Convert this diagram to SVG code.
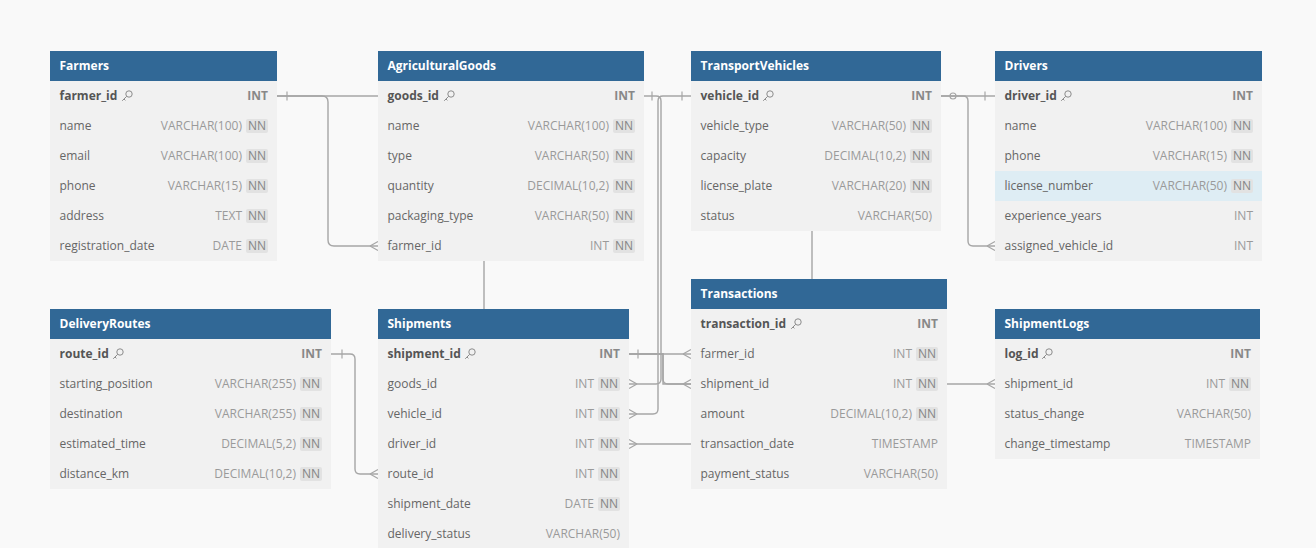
<svg xmlns="http://www.w3.org/2000/svg" xmlns:xlink="http://www.w3.org/1999/xlink" width="1316" height="548" viewBox="0 0 1316 548">
<style>
  text { font-family: "Open Sans", "Liberation Sans", sans-serif; font-size: 12px; }
  .hdr { fill: #316896; }
  .body { fill: #f1f1f1; }
  .title { fill: #ffffff; font-weight: 700; }
  .col { fill: #666666; }
  .pk { fill: #555555; font-weight: 700; }
  .type { fill: #9a9a9a; text-anchor: end; }
  .pktype { fill: #888888; font-weight: 700; text-anchor: end; }
  .badge { fill: #e2e2e2; }
  .nn { fill: #858585; text-anchor: middle; }
  .hl { fill: #deedf4; }
  .conn path { fill: none; stroke: #a6a6a6; stroke-width: 1.4; }
  .mk { fill: none; stroke: #a6a6a6; stroke-width: 1.2; }
  .keyi { fill: none; stroke: #8c8c8c; stroke-width: 1; }
</style>
<defs>
  <g id="key"><circle cx="2" cy="-2" r="3.2" class="keyi"/><path d="M-0.3 0.3 L-4.8 4.8 M-3 3 L-1.6 4.4" class="keyi"/></g>
  <path id="crowL" d="M-8 0 L0 -4.5 M-8 0 L0 4.5" class="mk"/>
  <path id="crowR" d="M8 0 L0 -4.5 M8 0 L0 4.5" class="mk"/>
  <path id="tick" d="M0 -4.5 V4.5" class="mk"/>
</defs>
<rect width="1316" height="548" fill="#f9f9f9"/>

<g id="connectors" class="conn">
  <path d="M277 96 H322 Q328 96 328 102 V240 Q328 246 334 246 H378"/>
  <path d="M277 96 H484 V354 H691"/>
  <path d="M644 96 H656 Q661 96 661 101 V379 Q661 384 656 384 H629"/>
  <path d="M691 96 H663 Q658 96 658 101 V409 Q658 414 653 414 H629"/>
  <path d="M629 354 H663 V379 Q663 384 668 384 H691"/>
  <path d="M629 354 H663 V384 H995"/>
  <path d="M629 444 H812 V96 H995"/>
  <path d="M941 96 H963 Q968 96 968 101 V241 Q968 246 973 246 H995"/>
  <path d="M331 354 H350 Q355 354 355 359 V469 Q355 474 360 474 H378"/>
  <use href="#tick" x="287" y="96"/>
  <use href="#crowL" x="378" y="246"/>
  <use href="#crowL" x="691" y="354"/>
  <use href="#tick" x="652" y="96"/>
  <use href="#crowR" x="629" y="384"/>
  <use href="#tick" x="682" y="96"/>
  <use href="#crowR" x="629" y="414"/>
  <use href="#tick" x="638" y="354"/>
  <use href="#crowL" x="691" y="384"/>
  <use href="#crowL" x="995" y="384"/>
  <use href="#crowR" x="629" y="444"/>
  <use href="#tick" x="985" y="96"/>
  <circle cx="953" cy="96" r="3" fill="#f9f9f9" class="mk"/>
  <use href="#crowL" x="995" y="246"/>
  <use href="#tick" x="342" y="354"/>
  <use href="#crowL" x="378" y="474"/>
</g>

<g id="Farmers">
  <rect class="hdr" x="50" y="51" width="227" height="30"/>
  <rect class="body" x="50" y="81" width="227" height="180"/>
  <text class="title" x="59.5" y="70">Farmers</text>
  <text class="pk" x="59.5" y="100">farmer_id</text><use href="#key" x="127" y="96"/><text class="pktype" x="268" y="100">INT</text>
  <text class="col" x="59.5" y="130">name</text><text class="type" x="242" y="130">VARCHAR(100)</text><rect class="badge" x="246" y="119" width="22" height="14" rx="2"/><text class="nn" x="257" y="130">NN</text>
  <text class="col" x="59.5" y="160">email</text><text class="type" x="242" y="160">VARCHAR(100)</text><rect class="badge" x="246" y="149" width="22" height="14" rx="2"/><text class="nn" x="257" y="160">NN</text>
  <text class="col" x="59.5" y="190">phone</text><text class="type" x="242" y="190">VARCHAR(15)</text><rect class="badge" x="246" y="179" width="22" height="14" rx="2"/><text class="nn" x="257" y="190">NN</text>
  <text class="col" x="59.5" y="220">address</text><text class="type" x="242" y="220">TEXT</text><rect class="badge" x="246" y="209" width="22" height="14" rx="2"/><text class="nn" x="257" y="220">NN</text>
  <text class="col" x="59.5" y="250">registration_date</text><text class="type" x="242" y="250">DATE</text><rect class="badge" x="246" y="239" width="22" height="14" rx="2"/><text class="nn" x="257" y="250">NN</text>
</g>

<g id="AgriculturalGoods">
  <rect class="hdr" x="378" y="51" width="266" height="30"/>
  <rect class="body" x="378" y="81" width="266" height="180"/>
  <text class="title" x="387.5" y="70">AgriculturalGoods</text>
  <text class="pk" x="387.5" y="100">goods_id</text><use href="#key" x="449" y="96"/><text class="pktype" x="635" y="100">INT</text>
  <text class="col" x="387.5" y="130">name</text><text class="type" x="609" y="130">VARCHAR(100)</text><rect class="badge" x="613" y="119" width="22" height="14" rx="2"/><text class="nn" x="624" y="130">NN</text>
  <text class="col" x="387.5" y="160">type</text><text class="type" x="609" y="160">VARCHAR(50)</text><rect class="badge" x="613" y="149" width="22" height="14" rx="2"/><text class="nn" x="624" y="160">NN</text>
  <text class="col" x="387.5" y="190">quantity</text><text class="type" x="609" y="190">DECIMAL(10,2)</text><rect class="badge" x="613" y="179" width="22" height="14" rx="2"/><text class="nn" x="624" y="190">NN</text>
  <text class="col" x="387.5" y="220">packaging_type</text><text class="type" x="609" y="220">VARCHAR(50)</text><rect class="badge" x="613" y="209" width="22" height="14" rx="2"/><text class="nn" x="624" y="220">NN</text>
  <text class="col" x="387.5" y="250">farmer_id</text><text class="type" x="609" y="250">INT</text><rect class="badge" x="613" y="239" width="22" height="14" rx="2"/><text class="nn" x="624" y="250">NN</text>
</g>

<g id="TransportVehicles">
  <rect class="hdr" x="691" y="51" width="250" height="30"/>
  <rect class="body" x="691" y="81" width="250" height="150"/>
  <text class="title" x="700.5" y="70">TransportVehicles</text>
  <text class="pk" x="700.5" y="100">vehicle_id</text><use href="#key" x="768" y="96"/><text class="pktype" x="932" y="100">INT</text>
  <text class="col" x="700.5" y="130">vehicle_type</text><text class="type" x="906" y="130">VARCHAR(50)</text><rect class="badge" x="910" y="119" width="22" height="14" rx="2"/><text class="nn" x="921" y="130">NN</text>
  <text class="col" x="700.5" y="160">capacity</text><text class="type" x="906" y="160">DECIMAL(10,2)</text><rect class="badge" x="910" y="149" width="22" height="14" rx="2"/><text class="nn" x="921" y="160">NN</text>
  <text class="col" x="700.5" y="190">license_plate</text><text class="type" x="906" y="190">VARCHAR(20)</text><rect class="badge" x="910" y="179" width="22" height="14" rx="2"/><text class="nn" x="921" y="190">NN</text>
  <text class="col" x="700.5" y="220">status</text><text class="type" x="932" y="220">VARCHAR(50)</text>
</g>

<g id="Drivers">
  <rect class="hdr" x="995" y="51" width="267" height="30"/>
  <rect class="body" x="995" y="81" width="267" height="180"/>
  <rect class="hl" x="995" y="171" width="267" height="30"/>
  <text class="title" x="1004.5" y="70">Drivers</text>
  <text class="pk" x="1004.5" y="100">driver_id</text><use href="#key" x="1066" y="96"/><text class="pktype" x="1253" y="100">INT</text>
  <text class="col" x="1004.5" y="130">name</text><text class="type" x="1227" y="130">VARCHAR(100)</text><rect class="badge" x="1231" y="119" width="22" height="14" rx="2"/><text class="nn" x="1242" y="130">NN</text>
  <text class="col" x="1004.5" y="160">phone</text><text class="type" x="1227" y="160">VARCHAR(15)</text><rect class="badge" x="1231" y="149" width="22" height="14" rx="2"/><text class="nn" x="1242" y="160">NN</text>
  <text class="col" x="1004.5" y="190">license_number</text><text class="type" x="1227" y="190">VARCHAR(50)</text><rect class="badge" x="1231" y="179" width="22" height="14" rx="2"/><text class="nn" x="1242" y="190">NN</text>
  <text class="col" x="1004.5" y="220">experience_years</text><text class="type" x="1253" y="220">INT</text>
  <text class="col" x="1004.5" y="250">assigned_vehicle_id</text><text class="type" x="1253" y="250">INT</text>
</g>

<g id="DeliveryRoutes">
  <rect class="hdr" x="50" y="309" width="281" height="30"/>
  <rect class="body" x="50" y="339" width="281" height="150"/>
  <text class="title" x="59.5" y="328">DeliveryRoutes</text>
  <text class="pk" x="59.5" y="358">route_id</text><use href="#key" x="118" y="354"/><text class="pktype" x="322" y="358">INT</text>
  <text class="col" x="59.5" y="388">starting_position</text><text class="type" x="296" y="388">VARCHAR(255)</text><rect class="badge" x="300" y="377" width="22" height="14" rx="2"/><text class="nn" x="311" y="388">NN</text>
  <text class="col" x="59.5" y="418">destination</text><text class="type" x="296" y="418">VARCHAR(255)</text><rect class="badge" x="300" y="407" width="22" height="14" rx="2"/><text class="nn" x="311" y="418">NN</text>
  <text class="col" x="59.5" y="448">estimated_time</text><text class="type" x="296" y="448">DECIMAL(5,2)</text><rect class="badge" x="300" y="437" width="22" height="14" rx="2"/><text class="nn" x="311" y="448">NN</text>
  <text class="col" x="59.5" y="478">distance_km</text><text class="type" x="296" y="478">DECIMAL(10,2)</text><rect class="badge" x="300" y="467" width="22" height="14" rx="2"/><text class="nn" x="311" y="478">NN</text>
</g>

<g id="Shipments">
  <rect class="hdr" x="378" y="309" width="251" height="30"/>
  <rect class="body" x="378" y="339" width="251" height="210"/>
  <text class="title" x="387.5" y="328">Shipments</text>
  <text class="pk" x="387.5" y="358">shipment_id</text><use href="#key" x="470" y="354"/><text class="pktype" x="620" y="358">INT</text>
  <text class="col" x="387.5" y="388">goods_id</text><text class="type" x="594" y="388">INT</text><rect class="badge" x="598" y="377" width="22" height="14" rx="2"/><text class="nn" x="609" y="388">NN</text>
  <text class="col" x="387.5" y="418">vehicle_id</text><text class="type" x="594" y="418">INT</text><rect class="badge" x="598" y="407" width="22" height="14" rx="2"/><text class="nn" x="609" y="418">NN</text>
  <text class="col" x="387.5" y="448">driver_id</text><text class="type" x="594" y="448">INT</text><rect class="badge" x="598" y="437" width="22" height="14" rx="2"/><text class="nn" x="609" y="448">NN</text>
  <text class="col" x="387.5" y="478">route_id</text><text class="type" x="594" y="478">INT</text><rect class="badge" x="598" y="467" width="22" height="14" rx="2"/><text class="nn" x="609" y="478">NN</text>
  <text class="col" x="387.5" y="508">shipment_date</text><text class="type" x="594" y="508">DATE</text><rect class="badge" x="598" y="497" width="22" height="14" rx="2"/><text class="nn" x="609" y="508">NN</text>
  <text class="col" x="387.5" y="538">delivery_status</text><text class="type" x="620" y="538">VARCHAR(50)</text>
</g>

<g id="Transactions">
  <rect class="hdr" x="691" y="279" width="256" height="30"/>
  <rect class="body" x="691" y="309" width="256" height="180"/>
  <text class="title" x="700.5" y="298">Transactions</text>
  <text class="pk" x="700.5" y="328">transaction_id</text><use href="#key" x="796" y="324"/><text class="pktype" x="938" y="328">INT</text>
  <text class="col" x="700.5" y="358">farmer_id</text><text class="type" x="912" y="358">INT</text><rect class="badge" x="916" y="347" width="22" height="14" rx="2"/><text class="nn" x="927" y="358">NN</text>
  <text class="col" x="700.5" y="388">shipment_id</text><text class="type" x="912" y="388">INT</text><rect class="badge" x="916" y="377" width="22" height="14" rx="2"/><text class="nn" x="927" y="388">NN</text>
  <text class="col" x="700.5" y="418">amount</text><text class="type" x="912" y="418">DECIMAL(10,2)</text><rect class="badge" x="916" y="407" width="22" height="14" rx="2"/><text class="nn" x="927" y="418">NN</text>
  <text class="col" x="700.5" y="448">transaction_date</text><text class="type" x="938" y="448">TIMESTAMP</text>
  <text class="col" x="700.5" y="478">payment_status</text><text class="type" x="938" y="478">VARCHAR(50)</text>
</g>

<g id="ShipmentLogs">
  <rect class="hdr" x="995" y="309" width="265" height="30"/>
  <rect class="body" x="995" y="339" width="265" height="120"/>
  <text class="title" x="1004.5" y="328">ShipmentLogs</text>
  <text class="pk" x="1004.5" y="358">log_id</text><use href="#key" x="1047" y="354"/><text class="pktype" x="1251" y="358">INT</text>
  <text class="col" x="1004.5" y="388">shipment_id</text><text class="type" x="1225" y="388">INT</text><rect class="badge" x="1229" y="377" width="22" height="14" rx="2"/><text class="nn" x="1240" y="388">NN</text>
  <text class="col" x="1004.5" y="418">status_change</text><text class="type" x="1251" y="418">VARCHAR(50)</text>
  <text class="col" x="1004.5" y="448">change_timestamp</text><text class="type" x="1251" y="448">TIMESTAMP</text>
</g>
</svg>
